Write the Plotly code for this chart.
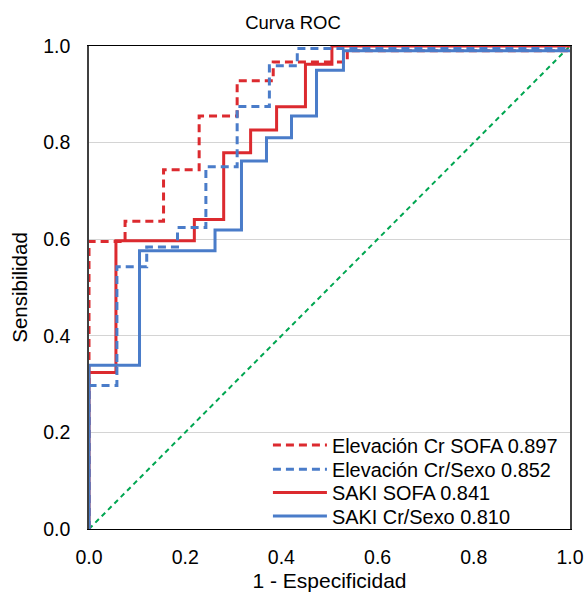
import plotly.graph_objects as go

# ROC step vertices (1 - especificidad, sensibilidad)
elev_sofa_fpr = [0, 0, 0.075, 0.155, 0.229, 0.308, 0.383, 0.537, 1.0]
elev_sofa_tpr = [0, 0.595, 0.637, 0.744, 0.855, 0.928, 0.967, 0.99, 0.99]

elev_sexo_fpr = [0, 0, 0.058, 0.120, 0.184, 0.243, 0.308, 0.375, 0.433, 1.0]
elev_sexo_tpr = [0, 0.297, 0.543, 0.584, 0.624, 0.750, 0.875, 0.959, 0.995, 0.995]

saki_sofa_fpr = [0, 0, 0.056, 0.219, 0.280, 0.336, 0.390, 0.450, 0.505, 1.0]
saki_sofa_tpr = [0, 0.324, 0.597, 0.641, 0.779, 0.826, 0.874, 0.962, 1.0, 1.0]

saki_sexo_fpr = [0, 0, 0.105, 0.262, 0.317, 0.369, 0.421, 0.473, 0.529, 1.0]
saki_sexo_tpr = [0, 0.339, 0.576, 0.619, 0.762, 0.810, 0.855, 0.950, 0.990, 0.990]

ref_x = [0, 1]
ref_y = [0, 1]

names = ["Elevación Cr SOFA 0.897", "Elevación Cr/Sexo 0.852",
         "SAKI SOFA 0.841", "SAKI Cr/Sexo 0.810"]
tick_vals = [0, 0.2, 0.4, 0.6, 0.8, 1.0]

RED = "#DC2A2F"
BLUE = "#4A7CC9"
GREEN = "#00A651"
FONT = "Liberation Sans, Arial, Helvetica, sans-serif"

fig = go.Figure()
fig.add_trace(go.Scatter(x=ref_x, y=ref_y, mode="lines", showlegend=False,
                         line=dict(color=GREEN, width=2, dash="5px,4px")))
fig.add_trace(go.Scatter(x=elev_sofa_fpr, y=elev_sofa_tpr, mode="lines", name=names[0],
                         line=dict(color=RED, width=3, dash="8px,5px", shape="hv"),
                         legend="legend"))
fig.add_trace(go.Scatter(x=saki_sofa_fpr, y=saki_sofa_tpr, mode="lines", name=names[2],
                         line=dict(color=RED, width=3, shape="hv"), legend="legend3"))
fig.add_trace(go.Scatter(x=elev_sexo_fpr, y=elev_sexo_tpr, mode="lines", name=names[1],
                         line=dict(color=BLUE, width=3, dash="8px,5px", shape="hv"),
                         legend="legend2"))
fig.add_trace(go.Scatter(x=saki_sexo_fpr, y=saki_sexo_tpr, mode="lines", name=names[3],
                         line=dict(color=BLUE, width=3, shape="hv"), legend="legend4"))

leg_common = dict(x=0.372, xanchor="left", yanchor="middle",
                  bgcolor="rgba(0,0,0,0)", borderwidth=0,
                  font=dict(size=19.9), itemwidth=54)
leg_rows = [0.174, 0.1236, 0.0752, 0.0269]

W, H = 586, 592
fig.update_layout(
    width=W, height=H,
    margin=dict(l=89, r=16, t=46, b=63, pad=0),
    paper_bgcolor="white", plot_bgcolor="white",
    font=dict(family=FONT, size=19.5, color="black"),
    title=dict(text="Curva ROC", x=293 / W, xref="container", xanchor="center",
               y=1 - 23 / H, yref="container", yanchor="middle",
               font=dict(size=18.5)),
    legend=dict(leg_common, y=leg_rows[0]),
    legend2=dict(leg_common, y=leg_rows[1]),
    legend3=dict(leg_common, y=leg_rows[2]),
    legend4=dict(leg_common, y=leg_rows[3]),
    showlegend=True,
    hovermode=False,
)
fig.update_xaxes(range=[0, 1], tickvals=tick_vals,
                 tickformat=".1f", showgrid=False, zeroline=False,
                 showline=True, linecolor="black", linewidth=1, mirror=True,
                 ticks="", ticklabelstandoff=11, automargin=False,
                 title=dict(text="1 - Especificidad", standoff=10, font=dict(size=21)))
fig.update_yaxes(range=[0, 1], tickvals=tick_vals,
                 tickformat=".1f", showgrid=True, gridcolor="#D4D4D4", gridwidth=1,
                 zeroline=False, showline=True, linecolor="#404040", linewidth=1.5,
                 mirror=True, ticks="", ticklabelstandoff=13, automargin=False,
                 title=dict(text="Sensibilidad", standoff=10, font=dict(size=20.5)))

fig.write_html("out.html", config={"displayModeBar": False},
               post_script="document.body.style.margin='0';document.body.style.overflow='hidden';")
